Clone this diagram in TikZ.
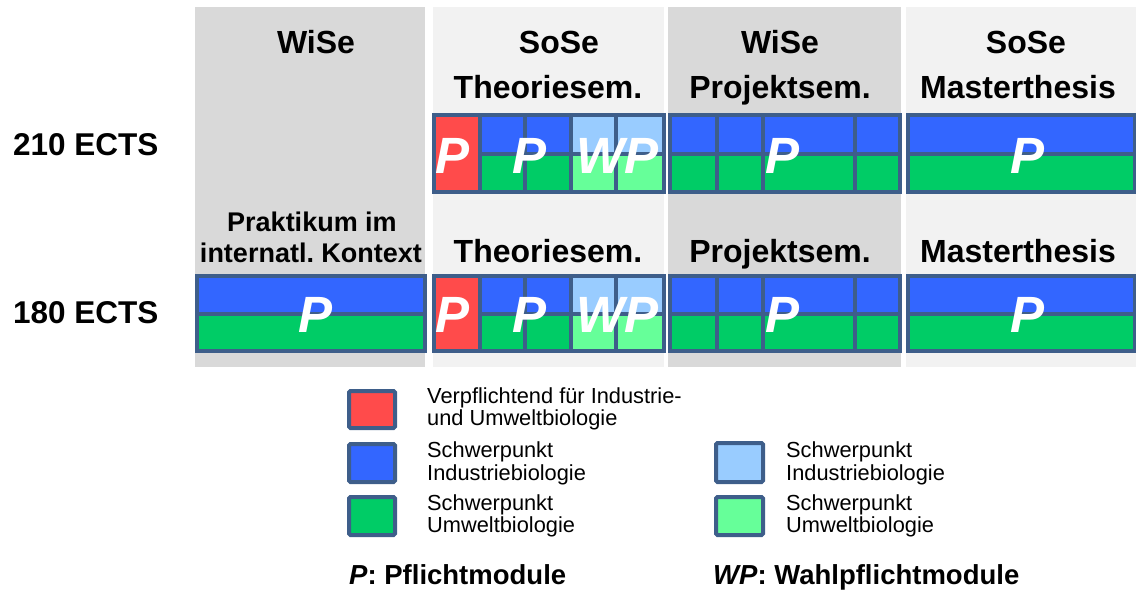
\documentclass[tikz,border=0pt]{standalone}
\usepackage{fontspec}
\setmainfont{Liberation Sans}
\frenchspacing
\definecolor{bgdark}{HTML}{D9D9D9}
\definecolor{bglight}{HTML}{F2F2F2}
\definecolor{bordc}{HTML}{3E5E8A}
\definecolor{cred}{HTML}{FF4B4B}
\definecolor{cblue}{HTML}{3366FF}
\definecolor{cgreen}{HTML}{00CC66}
\definecolor{clblue}{HTML}{99CCFF}
\definecolor{clgreen}{HTML}{66FF99}
\tikzset{
  cellbox/.style={draw=bordc, line width=4pt},
  hdr/.style={inner sep=0pt, anchor=base, font=\fontsize{32}{36}\selectfont\bfseries},
  hdrsmall/.style={inner sep=0pt, anchor=base, font=\fontsize{27}{31}\selectfont\bfseries},
  ects/.style={inner sep=0pt, anchor=base west, font=\fontsize{31.5}{36}\selectfont\bfseries},
  bigp/.style={inner sep=0pt, anchor=base west, text=white, font=\fontsize{51}{55}\selectfont\bfseries\itshape},
  legbox/.style={draw=bordc, line width=4pt, rounded corners=1.5pt},
  legtxt/.style={inner sep=0pt, anchor=base west, font=\fontsize{21.8}{23}\selectfont},
  keytxt/.style={inner sep=0pt, anchor=base west, font=\fontsize{27.5}{31}\selectfont\bfseries}
}
\begin{document}
\begin{tikzpicture}[x=1pt,y=-1pt]
\useasboundingbox (0,0) rectangle (1136,592);
% column backgrounds
\fill[bgdark]  (195,7) rectangle (425,367);
\fill[bglight] (433,7) rectangle (664,367);
\fill[bgdark]  (668,7) rectangle (901,367);
\fill[bglight] (906,7) rectangle (1136,367);

% headers row 1
\node[hdr] (h1a) at (316,53) {WiSe};
\node[hdr] (h2a) at (559,53) {SoSe};
\node[hdr] (h2b) at (548,98) {Theoriesem.};
\node[hdr] (h3a) at (780,53) {WiSe};
\node[hdr] (h3b) at (780,98) {Projektsem.};
\node[hdr] (h4a) at (1026,53) {SoSe};
\node[hdr] (h4b) at (1018,98) {Masterthesis};
% headers row 2
\node[hdrsmall] (p1) at (312,231) {Praktikum im};
\node[hdrsmall] (p2) at (311,262) {internatl. Kontext};
\node[hdr] (t2) at (548,262) {Theoriesem.};
\node[hdr] (pr2) at (780,262) {Projektsem.};
\node[hdr] (m2) at (1018,262) {Masterthesis};

% ECTS labels
\node[ects] (e210) at (13,155) {210 ECTS};
\node[ects] (e180) at (13,323) {180 ECTS};

\foreach \ya/\yb in {115/154, 276/314} {
  \pgfmathsetmacro{\yc}{\yb + (\yb-\ya)*0.97}
  % Theoriesem.
  \filldraw[cellbox, fill=cred]    (433.5,\ya) rectangle (480,\yc);
  \filldraw[cellbox, fill=cblue]   (480,\ya) rectangle (525,\yb);
  \filldraw[cellbox, fill=cblue]   (525,\ya) rectangle (570.5,\yb);
  \filldraw[cellbox, fill=cgreen]  (480,\yb) rectangle (525,\yc);
  \filldraw[cellbox, fill=cgreen]  (525,\yb) rectangle (570.5,\yc);
  \filldraw[cellbox, fill=clblue]  (570.5,\ya) rectangle (616,\yb);
  \filldraw[cellbox, fill=clblue]  (616,\ya) rectangle (663.5,\yb);
  \filldraw[cellbox, fill=clgreen] (570.5,\yb) rectangle (616,\yc);
  \filldraw[cellbox, fill=clgreen] (616,\yb) rectangle (663.5,\yc);
  % Projektsem.
  \foreach \xa/\xb in {669.5/716.5, 716.5/762.5, 762.5/855, 855/900} {
    \filldraw[cellbox, fill=cblue]  (\xa,\ya) rectangle (\xb,\yb);
    \filldraw[cellbox, fill=cgreen] (\xa,\yb) rectangle (\xb,\yc);
  }
  % Masterthesis
  \filldraw[cellbox, fill=cblue]  (907.5,\ya) rectangle (1134.5,\yb);
  \filldraw[cellbox, fill=cgreen] (907.5,\yb) rectangle (1134.5,\yc);
}
% Praktikum block (row 2 only)
\filldraw[cellbox, fill=cblue]  (197,276) rectangle (425,314);
\filldraw[cellbox, fill=cgreen] (197,314) rectangle (425,350.9);

% big letters row 1
\node[bigp] (r1p1) at (435,173) {P};
\node[bigp] (r1p2) at (512,173) {P};
\node[bigp] (r1wp) at (576,173) {WP};
\node[bigp] (r1p3) at (765,173) {P};
\node[bigp] (r1p4) at (1010,173) {P};
% big letters row 2
\node[bigp] (r2p0) at (298,332) {P};
\node[bigp] (r2p1) at (435,332) {P};
\node[bigp] (r2p2) at (512,332) {P};
\node[bigp] (r2wp) at (576,332) {WP};
\node[bigp] (r2p3) at (765,332) {P};
\node[bigp] (r2p4) at (1010,332) {P};

% legend
\filldraw[legbox, fill=cred]    (349,391) rectangle (395,428);
\filldraw[legbox, fill=cblue]   (349,444) rectangle (395,482);
\filldraw[legbox, fill=cgreen]  (349,497) rectangle (395,535);
\filldraw[legbox, fill=clblue]  (716,443) rectangle (763,482);
\filldraw[legbox, fill=clgreen] (716,497) rectangle (763,535);

\node[legtxt] (l1a) at (427,403) {Verpflichtend für Industrie-};
\node[legtxt] (l1b) at (427,425) {und Umweltbiologie};
\node[legtxt] (l2a) at (427,457) {Schwerpunkt};
\node[legtxt] (l2b) at (427,480) {Industriebiologie};
\node[legtxt] (l3a) at (427,510) {Schwerpunkt};
\node[legtxt] (l3b) at (427,532) {Umweltbiologie};
\node[legtxt] (l4a) at (786,457) {Schwerpunkt};
\node[legtxt] (l4b) at (786,480) {Industriebiologie};
\node[legtxt] (l5a) at (786,510) {Schwerpunkt};
\node[legtxt] (l5b) at (786,532) {Umweltbiologie};

\node[keytxt] (kp) at (349,584) {\textit{P}: Pflichtmodule};
\node[keytxt] (kwp) at (713,584) {\textit{WP}: Wahlpflichtmodule};
\end{tikzpicture}
\end{document}
